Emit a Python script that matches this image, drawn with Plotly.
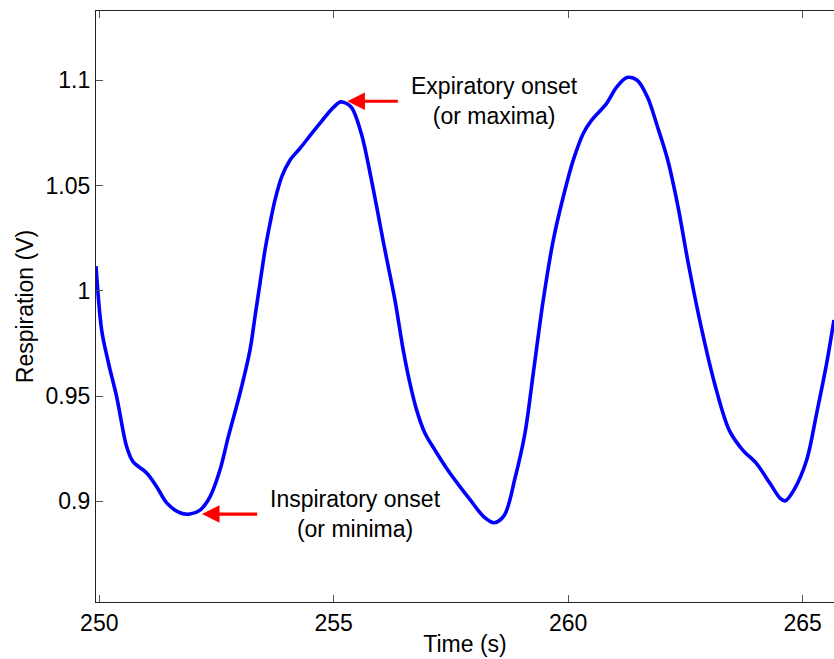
import plotly.graph_objects as go

# Time (s)
time_s = [249.930, 250.051, 250.196, 250.371, 250.584, 250.719, 251.011, 251.224,
          251.437, 251.721, 251.934, 252.148, 252.361, 252.574, 252.751, 253.001,
          253.214, 253.321, 253.427, 253.534, 253.641, 253.747, 253.890, 254.067,
          254.280, 254.643, 255.005, 255.152, 255.370, 255.588, 255.805, 256.093,
          256.306, 256.483, 256.626, 256.769, 256.946, 257.159, 257.409, 257.912,
          258.203, 258.420, 258.640, 258.866, 259.079, 259.256, 259.469, 259.683,
          259.896, 260.109, 260.322, 260.501, 260.817, 261.037, 261.254, 261.472,
          261.689, 261.907, 262.125, 262.344, 262.562, 262.852, 263.142, 263.434,
          263.724, 264.014, 264.304, 264.522, 264.633, 264.814, 265.087, 265.300,
          265.513, 265.669]
# Respiration (V)
resp_v = [1.0117, 0.9813, 0.9657, 0.9496, 0.9259, 0.9188, 0.9134, 0.9069,
          0.8992, 0.8945, 0.8939, 0.8958, 0.9021, 0.9148, 0.9306, 0.9513,
          0.9718, 0.9877, 1.0035, 1.0193, 1.0320, 1.0431, 1.0542, 1.0621,
          1.0677, 1.0779, 1.0874, 1.0898, 1.0874, 1.0748, 1.0526, 1.0193,
          0.9956, 0.9718, 0.9560, 0.9433, 0.9323, 0.9243, 0.9156, 0.9006,
          0.8926, 0.8898, 0.8934, 0.9109, 0.9323, 0.9608, 0.9956, 1.0241,
          1.0447, 1.0621, 1.0748, 1.0811, 1.0890, 1.0969, 1.1014, 1.1001,
          1.0922, 1.0779, 1.0621, 1.0399, 1.0130, 0.9813, 0.9544, 0.9338,
          0.9243, 0.9180, 0.9085, 0.9014, 0.9002, 0.9053, 0.9196, 0.9418,
          0.9655, 0.9861]

x_ticks = [250, 255, 260, 265]
x_tick_labels = ["250", "255", "260", "265"]
y_ticks = [0.9, 0.95, 1.0, 1.05, 1.1]
y_tick_labels = ["0.9", "0.95", "1", "1.05", "1.1"]

FONT = "Liberation Sans, Arial, Helvetica, sans-serif"

fig = go.Figure()
fig.add_trace(go.Scatter(
    x=time_s, y=resp_v, mode="lines",
    line=dict(color="#0000FF", width=3.6, shape="spline", smoothing=0.9),
    showlegend=False, hoverinfo="skip"))

# arrows
arrow_style = dict(showarrow=True, text="", xref="x", yref="y", axref="x", ayref="y",
                   arrowhead=2, arrowsize=1.1, arrowwidth=3.2, arrowcolor="#FF0000",
                   standoff=0, startstandoff=0)
fig.add_annotation(x=252.19, y=0.8939, ax=253.40, ay=0.8939, **arrow_style)
fig.add_annotation(x=255.29, y=1.0901, ax=256.40, ay=1.0901, **arrow_style)

# labels
fig.add_annotation(x=255.46, y=0.8939, xref="x", yref="y", showarrow=False,
                   text="Inspiratory onset<br>(or minima)", align="center",
                   font=dict(family=FONT, size=23, color="black"),
                   xanchor="center", yanchor="middle")
fig.add_annotation(x=258.42, y=1.0900, xref="x", yref="y", showarrow=False,
                   text="Expiratory onset<br>(or maxima)", align="center",
                   font=dict(family=FONT, size=23, color="black"),
                   xanchor="center", yanchor="middle")

fig.update_layout(
    width=834, height=659,
    margin=dict(l=96, r=0, t=11, b=57, pad=0),
    paper_bgcolor="white", plot_bgcolor="white",
    font=dict(family=FONT, size=23, color="black"),
    xaxis=dict(range=[249.93, 265.67], tickvals=x_ticks, ticktext=x_tick_labels,
               showgrid=False, zeroline=False, showline=True, linecolor="#222222",
               linewidth=1.3, mirror="ticks", ticks="inside", ticklen=7,
               tickcolor="#555555", tickwidth=1,
               title=dict(text="Time (s)", standoff=1, font=dict(size=23)),
               automargin=False),
    yaxis=dict(range=[0.8521, 1.133], tickvals=y_ticks, ticktext=y_tick_labels,
               showgrid=False, zeroline=False, showline=True, linecolor="#222222",
               linewidth=1.3, mirror=False, ticks="inside", ticklen=7,
               tickcolor="#555555", tickwidth=1,
               title=dict(text="Respiration (V)", standoff=5, font=dict(size=23)),
               automargin=False),
)

fig.write_html("out.html")
